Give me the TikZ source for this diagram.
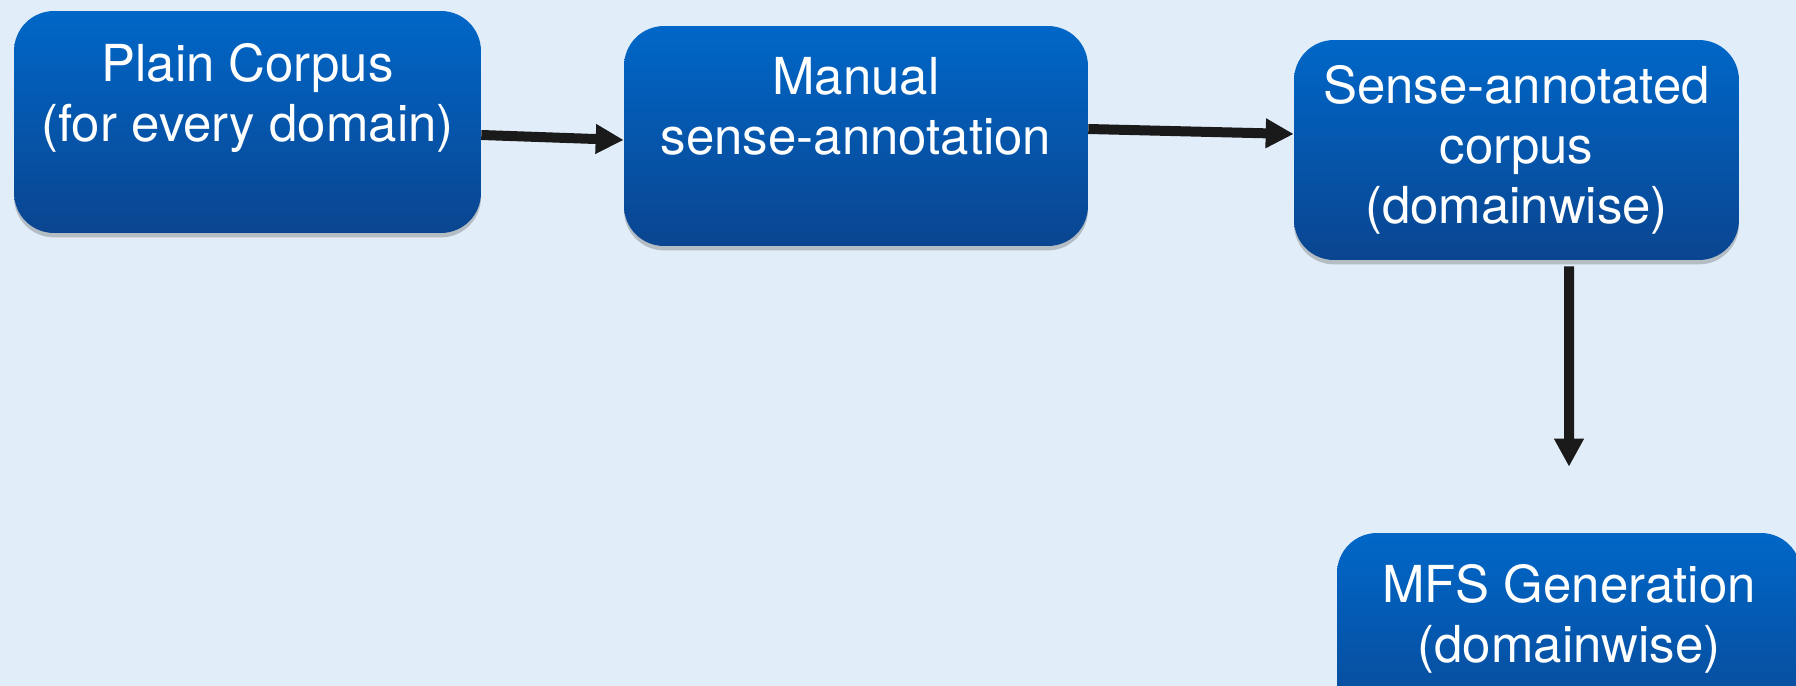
\documentclass[tikz,border=0pt]{standalone}
\usepackage{fontspec}
\setmainfont{TeX Gyre Heros}
\usetikzlibrary{positioning,calc,arrows.meta,shadows}
\definecolor{bgblue}{HTML}{E1EDF9}
\definecolor{boxtop}{HTML}{0067C8}
\definecolor{boxbottom}{HTML}{0A4590}
\definecolor{arrowgray}{HTML}{1A1A1A}
\tikzset{
	stage/.style={rectangle, rounded corners=0.8cm, top color=boxtop, bottom color=boxbottom, draw=none, text=white, align=center, inner sep=0pt, minimum width=9.28cm, minimum height=4.4cm, font=\fontsize{29}{34}\selectfont, drop shadow={shadow xshift=0pt, shadow yshift=-2.5pt, opacity=0.3, fill=black!70}},
	arrow/.style={-{Triangle[length=0.56cm,width=0.56cm]}, line width=0.2cm, draw=arrowgray}
}

\begin{document}
\begin{tikzpicture}[x=0.02cm, y=-0.02cm]
	% canvas
	\useasboundingbox (0,0) rectangle (1796,686);
	\fill[bgblue] (0,0) rectangle (1796,686);
	\clip (0,0) rectangle (1796,686);

	% stages
	\node[stage, minimum width=9.34cm, minimum height=4.44cm] (plain) at (247.5,122) {Plain Corpus\\(for every domain)\\\mbox{}};
	\node[stage] (manual) at (856,136) {Manual\\sense-annotation\\\mbox{}};
	\node[stage, minimum width=8.9cm] (sense) at (1516.5,150) {Sense-annotated\\corpus\\(domainwise)};
	\node[stage] (mfs) at (1569,643) {MFS Generation\\(domainwise)\\\mbox{}};

	% arrows
	\draw[arrow] ([yshift=-0.26cm]plain.east) -- ([yshift=-0.08cm]manual.west);
	\draw[arrow] ([yshift=0.14cm]manual.east) -- ([yshift=0.32cm]sense.west);
	\draw[arrow] ([xshift=1.05cm,yshift=-0.12cm]sense.south) -- ([yshift=1.32cm]mfs.north);
\end{tikzpicture}
\end{document}
